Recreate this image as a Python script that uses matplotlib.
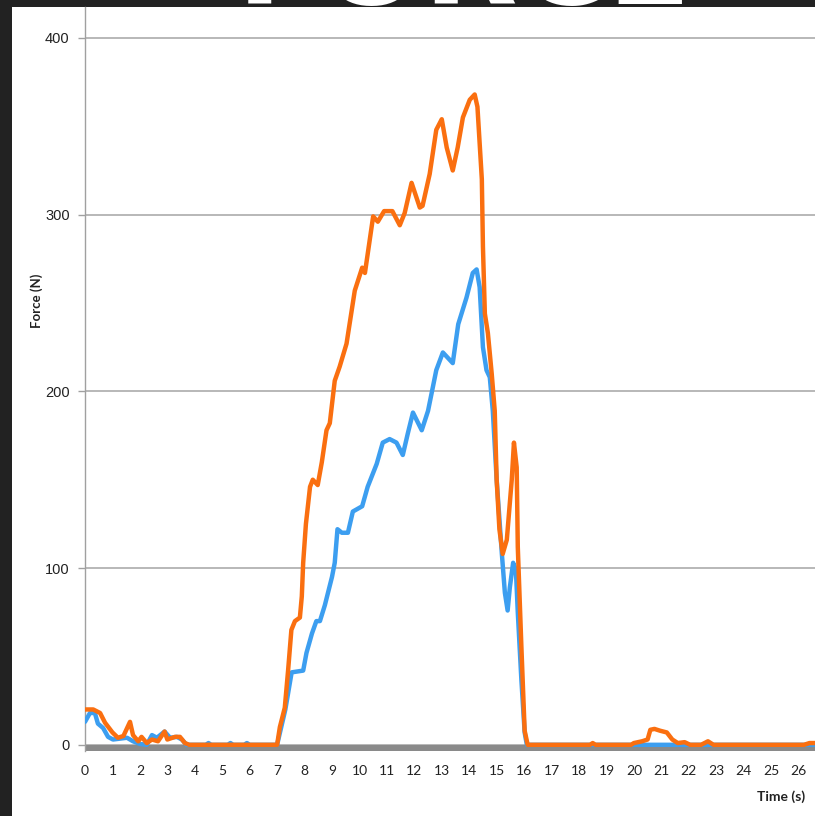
import matplotlib.pyplot as plt
from matplotlib.patches import Rectangle

# time (s) and force (N)
t_blue = [0, 0.18, 0.36, 0.47, 0.66, 0.84, 1.02, 1.53, 1.75, 2.0, 2.25, 2.44, 2.62, 2.9,
          3.1, 3.35, 3.53, 3.7, 4.4, 4.5, 4.6, 5.2, 5.3, 5.4, 5.8, 5.9, 6.0, 7.0, 7.3,
          7.53, 7.95, 8.07, 8.27, 8.43, 8.56, 8.74, 9.0, 9.1, 9.2, 9.36, 9.58, 9.76,
          10.1, 10.3, 10.63, 10.85, 11.1, 11.35, 11.58, 11.76, 11.95, 12.27, 12.5,
          12.67, 12.8, 13.04, 13.4, 13.6, 13.9, 14.13, 14.27, 14.38, 14.5, 14.63,
          14.75, 14.86, 15.0, 15.19, 15.3, 15.4, 15.48, 15.6, 15.7, 15.77, 15.9,
          16.02, 16.1, 26.7]
f_blue = [13, 18, 18, 12, 9.5, 4.5, 3, 4, 2, 0.5, 0, 5.5, 4, 7.5,
          4, 4.5, 3, 0, 0, 1, 0, 0, 1, 0, 0, 1, 0, 0, 20,
          41, 42, 52, 63, 70, 70, 79, 95, 103, 122, 120, 120, 132,
          135, 146, 159, 171, 173, 171, 164, 176, 188, 178, 189,
          202, 212, 222, 216, 238, 253, 267, 269, 259, 225, 212,
          208, 189, 150, 108, 86, 76, 89, 103, 99, 75, 37,
          7, 0, 0]

t_orange = [0, 0.3, 0.55, 0.73, 1.0, 1.2, 1.4, 1.64, 1.75, 1.94, 2.06, 2.25, 2.44, 2.66,
            2.9, 3.0, 3.28, 3.46, 3.64, 3.8, 7.0, 7.1, 7.28, 7.4, 7.52, 7.65, 7.83,
            7.9, 7.95, 8.05, 8.2, 8.3, 8.48, 8.63, 8.8, 8.92, 9.1, 9.28, 9.53, 9.83,
            10.1, 10.2, 10.5, 10.67, 10.9, 11.2, 11.47, 11.65, 11.9, 12.2, 12.3,
            12.56, 12.8, 13.0, 13.18, 13.4, 13.58, 13.77, 14.02, 14.2, 14.3, 14.46,
            14.5, 14.57, 14.68, 14.82, 14.93, 15.0, 15.1, 15.22, 15.37, 15.55, 15.63,
            15.73, 15.77, 15.9, 16.02, 16.13, 18.4, 18.5, 18.6, 19.9, 20.0, 20.3,
            20.5, 20.6, 20.75, 20.95, 21.2, 21.4, 21.6, 21.85, 22.05, 22.45, 22.7,
            22.9, 23.2, 26.2, 26.4, 26.7]
f_orange = [20, 20, 18, 12.5, 7, 4, 5, 13, 5.5, 2, 4.5, 1, 3, 2,
            7.5, 3, 4.5, 4.5, 1, 0, 0, 10, 21, 42, 65, 70, 72,
            84, 103, 125, 146, 150, 147, 160, 178, 182, 206, 214, 227, 257,
            270, 267, 299, 296, 302, 302, 294, 301, 318, 304, 305,
            323, 348, 354, 338, 325, 338, 355, 365, 368, 361, 320,
            282, 244, 233, 210, 189, 150, 122, 108, 116, 150, 171,
            157, 112, 56, 8, 0, 0, 1, 0, 0, 1, 2,
            3, 8.5, 9, 8, 7, 3, 1, 1.5, 0, 0, 2,
            0, 0, 0, 1, 1]

x_ticks = list(range(0, 27))
y_ticks = [0, 100, 200, 300, 400]

fig = plt.figure(figsize=(8.15, 8.16), dpi=100, facecolor='#222222')
# white slide panel, behind the axes
fig.patches.append(Rectangle((12 / 815, 0), 1, 1 - 7 / 816, transform=fig.transFigure,
                             facecolor='white', edgecolor='none', zorder=-5))
# slide title, mostly cut off at the top
fig.text(0.57, 1 - 4 / 816, 'FORCE', color='white', fontsize=88, fontweight='bold',
         family='DejaVu Sans', ha='center', va='baseline', zorder=10)

ax = fig.add_axes([85 / 815, 1 - 751 / 816, 1 - 85 / 815, (751 - 7) / 816])
ax.set_facecolor('none')
ax.set_zorder(1)

ax.axhspan(-3.5, -0.2, color='#8a8a8a', zorder=2, lw=0)
ax.plot(t_blue, f_blue, color='#3c9ef0', lw=3.2, zorder=3,
        solid_joinstyle='round', solid_capstyle='round')
ax.plot(t_orange, f_orange, color='#fa6f10', lw=3.2, zorder=4,
        solid_joinstyle='round', solid_capstyle='round')

ax.set_xlim(0, 26.6)
ax.set_ylim(-3.5, 417.5)
ax.set_xticks(x_ticks)
ax.set_yticks(y_ticks)
ax.yaxis.grid(True, color='#ababab', lw=1.2)
ax.set_axisbelow(True)

for s in ['top', 'right', 'bottom']:
    ax.spines[s].set_visible(False)
ax.spines['left'].set_color('#a0a0a0')
ax.spines['left'].set_linewidth(1)

ax.tick_params(axis='x', length=0, pad=10, labelsize=10, labelcolor='#222222')
ax.tick_params(axis='y', length=5, width=1, color='#a0a0a0', pad=6, labelsize=10.5,
               labelcolor='#222222')
for lab in ax.get_xticklabels():
    lab.set_family(['Lato', 'DejaVu Sans'])
for lab in ax.get_yticklabels():
    lab.set_family(['Liberation Sans Narrow', 'Liberation Sans', 'DejaVu Sans'])

fig.text(37 / 815, 1 - 301 / 816, 'Force (N)', rotation=90, ha='center', va='center',
         fontsize=9.5, fontweight='bold', family=['Lato', 'DejaVu Sans'], color='#222222')
fig.text(805 / 815, 1 - 797 / 816, 'Time (s)', ha='right', va='center',
         fontsize=10, fontweight='bold', family=['Lato', 'DejaVu Sans'], color='#222222')

fig.savefig('out.png', dpi=100, facecolor=fig.get_facecolor())
